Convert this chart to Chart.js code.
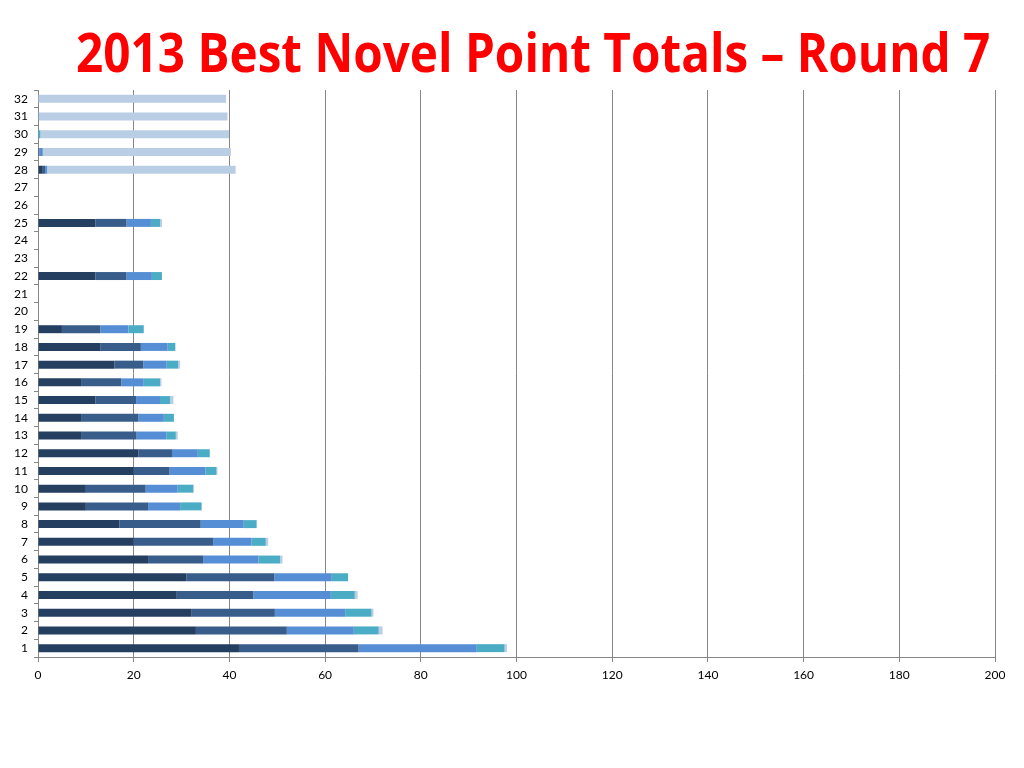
<!DOCTYPE html>
<html>
<head>
<meta charset="utf-8">
<script src="https://cdn.jsdelivr.net/npm/chart.js@4"></script>
<style>
  html, body { margin: 0; padding: 0; background: #fff; }
  #wrap { position: relative; width: 1024px; height: 768px; }
  #title {
    position: absolute; left: 76px; top: 25px; margin: 0;
    font-family: "Open Sans", sans-serif; line-height: 1;
    font-weight: bold; font-size: 53px; color: #ff0000; white-space: nowrap;
    transform-origin: 0 0;
  }
</style>
</head>
<body>
<div id="wrap">
  <h1 id="title">2013 Best Novel Point Totals – Round 7</h1>
  <canvas id="chart" width="1024" height="768"></canvas>
</div>
<script>
// categories 1..32 (1 drawn at the bottom)
const categories = ["1","2","3","4","5","6","7","8","9","10","11","12","13","14","15","16",
                    "17","18","19","20","21","22","23","24","25","26","27","28","29","30","31","32"];

const darkPts  = [42, 33, 32, 29, 31, 23, 20, 17, 10, 10, 20, 21, 9, 9, 12, 9,
                  16, 13, 5, 0, 0, 12, 0, 0, 12, 0, 0, 1.0, 0, 0, 0, 0];
const midPts   = [25, 19, 17.5, 16, 18.4, 11.5, 16.6, 17, 13, 12.5, 7.5, 7, 11.6, 12, 8.5, 8.4,
                  6, 8.5, 8, 0, 0, 6.5, 0, 0, 6.5, 0, 0, 0.5, 0.3, 0, 0, 0];
const lightPts = [24.7, 14, 14.7, 16.2, 12, 11.6, 8, 9, 6.7, 6.7, 7.5, 5.4, 6.2, 5.3, 5, 4.7,
                  4.9, 5.6, 5.9, 0, 0, 5.3, 0, 0, 5.1, 0, 0, 0.4, 0.7, 0, 0, 0];
const tealPts  = [5.8, 5.2, 5.5, 5, 3.4, 4.5, 3, 2.7, 4.5, 3.2, 2.3, 2.5, 2, 2.1, 2.1, 3.4,
                  2.4, 1.6, 3.2, 0, 0, 2.1, 0, 0, 1.9, 0, 0, 0, 0, 0.5, 0.15, 0];
const palePts  = [0.5, 0.8, 0.4, 0.6, 0, 0.5, 0.5, 0, 0, 0.2, 0.2, 0, 0.4, 0, 0.7, 0.3,
                  0.4, 0, 0, 0, 0, 0, 0, 0, 0.4, 0, 0, 39.4, 39.3, 39.4, 39.45, 39.3];

const xTicks = [0, 20, 40, 60, 80, 100, 120, 140, 160, 180, 200];

// squeeze the title to the reference width (Calibri is narrower than Open Sans)
const title = document.getElementById("title");
title.style.transform = "scaleX(" + (914 / title.scrollWidth) + ")";

const tickFont = { family: "Lato, 'Open Sans', sans-serif", size: 12 };

function series(label, data, color) {
  return {
    label: label, data: data, backgroundColor: color,
    borderWidth: 0, barPercentage: 0.9, categoryPercentage: 0.5
  };
}

new Chart(document.getElementById("chart"), {
  type: "bar",
  data: {
    labels: categories,
    datasets: [
      series("1", darkPts, "#243f60"),
      series("2", midPts, "#385d8a"),
      series("3", lightPts, "#558ed5"),
      series("4", tealPts, "#4bacc6"),
      series("5", palePts, "#b9cde5")
    ]
  },
  options: {
    indexAxis: "y",
    responsive: false,
    animation: false,
    layout: { padding: { left: 0, right: 29, top: 90, bottom: 81 } },
    plugins: {
      legend: { display: false },
      tooltip: { enabled: false }
    },
    scales: {
      x: {
        stacked: true,
        min: 0, max: 200,
        afterBuildTicks: s => { s.ticks = xTicks.map(v => ({ value: v })); },
        afterFit: s => { s.height = 30; },
        grid: { color: "#868686", lineWidth: 1, tickLength: 5, drawTicks: true },
        border: { color: "#868686" },
        ticks: { font: tickFont, color: "#000", padding: 6 }
      },
      y: {
        stacked: true,
        reverse: true,
        afterFit: s => { s.width = 38; },
        grid: { drawOnChartArea: false, drawTicks: true, tickLength: 4, color: "#868686", offset: true },
        border: { color: "#868686" },
        ticks: { font: tickFont, color: "#000", padding: 6, autoSkip: false }
      }
    }
  }
});
</script>
</body>
</html>
